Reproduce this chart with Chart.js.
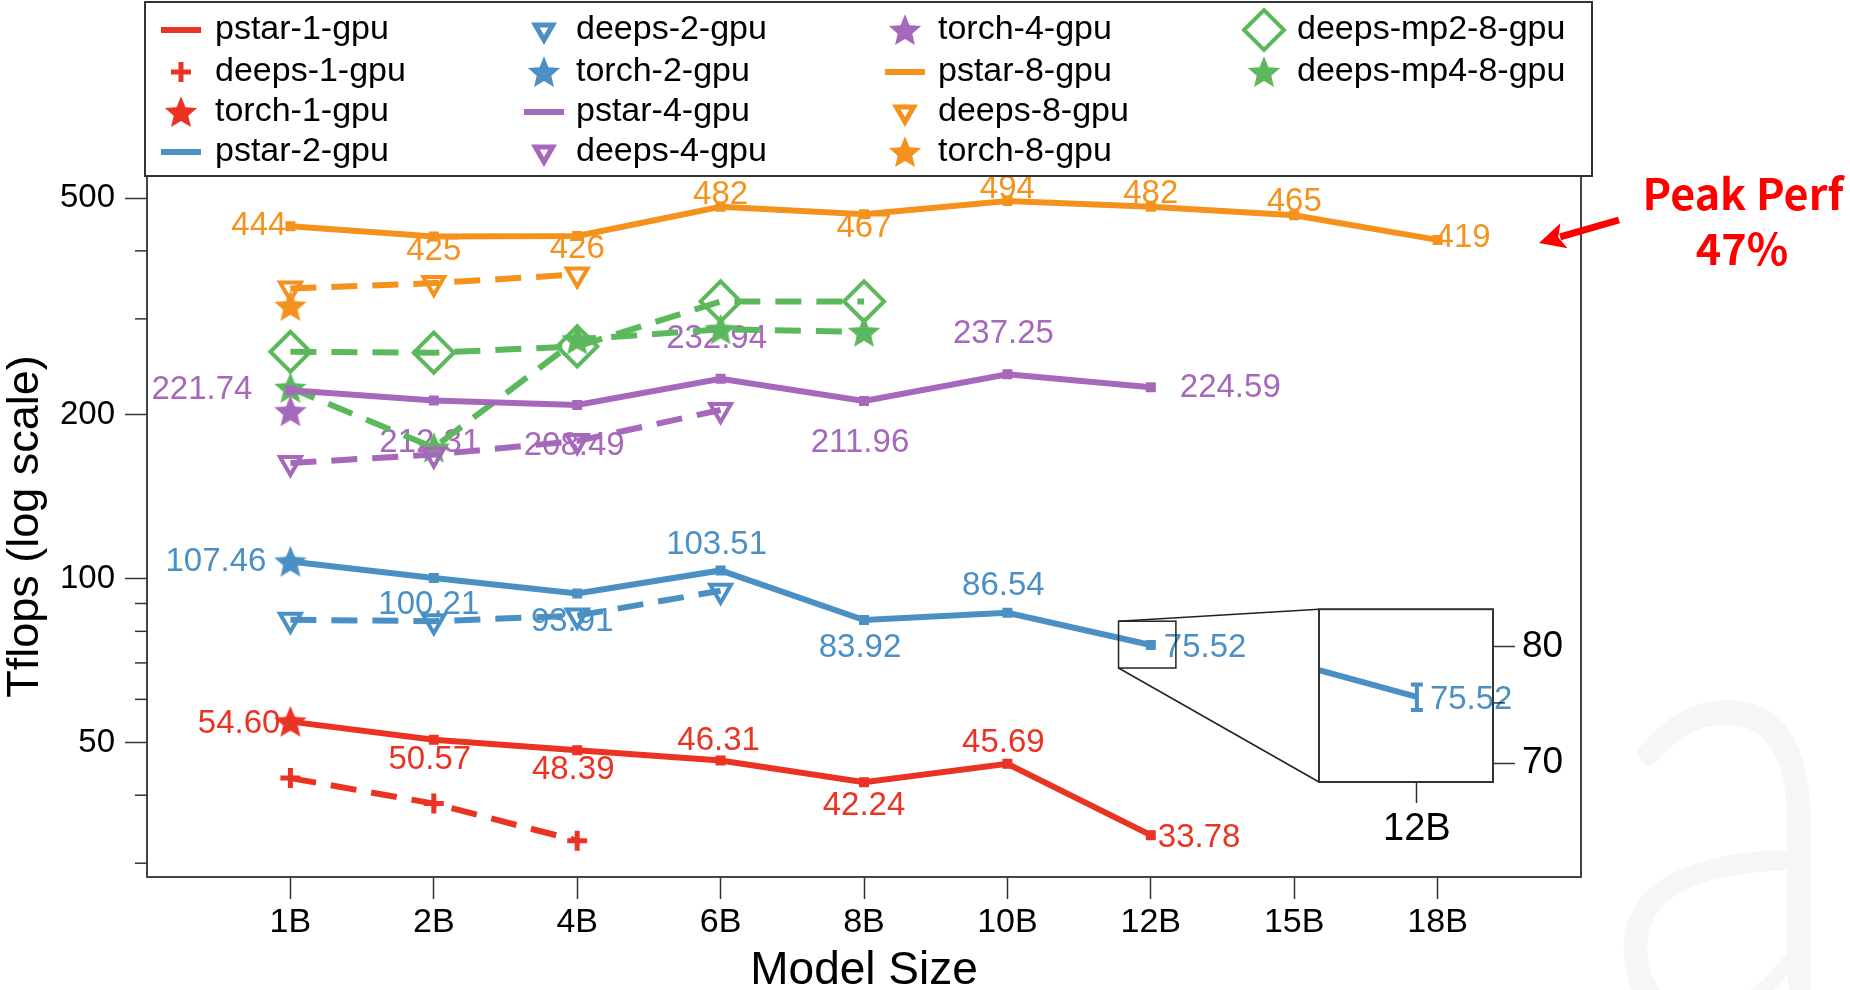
<!DOCTYPE html>
<html>
<head>
<meta charset="utf-8">
<title>Tflops by model size</title>
<script src="https://cdn.jsdelivr.net/npm/chart.js@4.4.1/dist/chart.umd.min.js"></script>
<style>
  html, body { margin: 0; padding: 0; background: #fff; }
  #stage { position: relative; width: 1850px; height: 990px; overflow: hidden; }
  #main { position: absolute; left: 0; top: 0; }
  #zoom { position: absolute; left: 1300px; top: 580px; }
</style>
</head>
<body>
<div id="stage">
  <canvas id="main" width="1850" height="990"></canvas>
  <canvas id="zoom" width="300" height="290"></canvas>
</div>
<script>
// Model sizes along the x axis
const sizes = ['1B', '2B', '4B', '6B', '8B', '10B', '12B', '15B', '18B'];

// Throughput in Tflops, one entry per model size
const pstar1 = [54.60, 50.57, 48.39, 46.31, 42.24, 45.69, 33.78];
const deeps1 = [43.0, 38.6, 33.0];
const torch1 = [54.60];
const pstar2 = [107.46, 100.21, 93.91, 103.51, 83.92, 86.54, 75.52];
const deeps2 = [84.0, 83.5, 85.5, 95.0];
const torch2 = [107.46];
const pstar4 = [221.74, 212.31, 208.49, 232.94, 211.96, 237.25, 224.59];
const deeps4 = [163, 169, 179, 204];
const torch4 = [203];
const pstar8 = [444, 425, 426, 482, 467, 494, 482, 465, 419];
const deeps8 = [341, 349, 362];
const torch8 = [317];
const deepsMp2x8 = [261, 260, 267, 323, 323];
const deepsMp4x8 = [224, 174, 275, 287, 284];

// Spread of the 12B pstar-2-gpu runs (shown in the magnified view)
const pstar2Low  = [null, null, null, null, null, null, 74.4];
const pstar2High = [null, null, null, null, null, null, 76.6];

// Tick values
const yTicks = [30, 40, 50, 60, 70, 80, 90, 100, 200, 300, 400, 500];
const yLabelled = [50, 100, 200, 500];
const zoomTicks = [70, 75, 80];
const zoomLabelled = [70, 80];

// Window covered by the magnified view (x index, Tflops)
const zoomX = [5.775, 6.175];
const zoomY = [68.5, 83.5];

const FONT = "'Liberation Sans', Arial, Helvetica, sans-serif";
Chart.defaults.font.family = FONT;
Chart.defaults.color = '#000';

const C = { red: '#EB3324', blue: '#4A90C4', purple: '#A668BA', orange: '#F5921E', green: '#5CB85C' };
const DASH = [26, 15];
const CLEAR = 'rgba(0,0,0,0)';

// Value label placement: [dx, dy, anchor] relative to the point
const pos8 = [[-4,0,'R'],[0,14,'C'],[0,13,'C'],[0,-12,'C'],[0,14,'C'],[0,-12,'C'],[0,-13,'C'],[0,-13,'C'],[-2,-2,'L']];
const pos4 = [[-38,0,'R'],[-4,42,'C'],[-3,41,'C'],[-4,-40,'C'],[-4,42,'C'],[-4,-40,'C'],[29,1,'L']];
const pos2 = [[-24,0,'R'],[-5,27,'C'],[-5,28,'C'],[-4,-26,'C'],[-4,28,'C'],[-4,-27,'C'],[13,3,'L']];
const pos1 = [[-10,2,'R'],[-4,20,'C'],[-4,20,'C'],[-2,-20,'C'],[0,24,'C'],[-4,-21,'C'],[7,3,'L']];
const posZoom = [null, null, null, null, null, null, [13,3,'L']];

function pts(arr) {
  return arr.map((v, i) => (v == null ? null : { x: i, y: v })).filter(Boolean);
}

// Filled five-pointed star used as a point marker
function starImage(color, R) {
  const s = Math.ceil(R * 2 + 4);
  const c = document.createElement('canvas');
  c.width = s; c.height = s;
  const g = c.getContext('2d');
  g.fillStyle = color;
  g.beginPath();
  for (let i = 0; i < 10; i++) {
    const a = -Math.PI / 2 + i * Math.PI / 5;
    const r = i % 2 ? R * 0.45 : R;
    const px = s / 2 + r * Math.cos(a), py = s / 2 + R * 0.08 + r * Math.sin(a);
    if (i === 0) g.moveTo(px, py); else g.lineTo(px, py);
  }
  g.closePath();
  g.fill();
  return c;
}

function pstarSet(label, color, values, pos, decimals) {
  return { label, data: pts(values), borderColor: color, backgroundColor: color, borderWidth: 6,
    pointStyle: 'rect', pointRadius: 6, pointBorderWidth: 1.5, pointBackgroundColor: color,
    pointBorderColor: color, legendKind: 'line', valueLabels: { pos, decimals } };
}
function deepsSet(label, color, values) {
  return { label, data: pts(values), borderColor: color, backgroundColor: CLEAR, borderWidth: 6,
    borderDash: DASH, pointStyle: 'triangle', pointRotation: 180, pointRadius: 12,
    pointBorderWidth: 4, pointBorderColor: color, pointBackgroundColor: CLEAR,
    legendRadius: 10, legendBorderWidth: 5 };
}
function torchSet(label, color, values) {
  return { label, data: pts(values), showLine: false, borderColor: color, backgroundColor: color,
    pointStyle: starImage(color, 17), pointRadius: 17, pointBackgroundColor: color, pointBorderColor: color };
}

const datasets = [
  pstarSet('pstar-1-gpu', C.red, pstar1, pos1, 2),
  { label: 'deeps-1-gpu', data: pts(deeps1), borderColor: C.red, backgroundColor: C.red, borderWidth: 6,
    borderDash: DASH, pointStyle: 'cross', pointRadius: 10, pointBorderWidth: 5, pointBorderColor: C.red,
    pointBackgroundColor: C.red },
  torchSet('torch-1-gpu', C.red, torch1),
  pstarSet('pstar-2-gpu', C.blue, pstar2, pos2, 2),
  deepsSet('deeps-2-gpu', C.blue, deeps2),
  torchSet('torch-2-gpu', C.blue, torch2),
  pstarSet('pstar-4-gpu', C.purple, pstar4, pos4, 2),
  deepsSet('deeps-4-gpu', C.purple, deeps4),
  torchSet('torch-4-gpu', C.purple, torch4),
  pstarSet('pstar-8-gpu', C.orange, pstar8, pos8, 0),
  deepsSet('deeps-8-gpu', C.orange, deeps8),
  torchSet('torch-8-gpu', C.orange, torch8),
  { label: 'deeps-mp2-8-gpu', data: pts(deepsMp2x8), borderColor: C.green, backgroundColor: CLEAR, borderWidth: 6,
    borderDash: DASH, pointStyle: 'rectRot', pointRadius: 20, pointBorderWidth: 4, pointBorderColor: C.green,
    pointBackgroundColor: CLEAR },
  { label: 'deeps-mp4-8-gpu', data: pts(deepsMp4x8), borderColor: C.green, backgroundColor: C.green, borderWidth: 6,
    borderDash: DASH, pointStyle: starImage(C.green, 17), pointRadius: 17, pointBackgroundColor: C.green,
    pointBorderColor: C.green }
];

// Legend grid (column-major)
const legendColumns = [
  ['pstar-1-gpu', 'deeps-1-gpu', 'torch-1-gpu', 'pstar-2-gpu'],
  ['deeps-2-gpu', 'torch-2-gpu', 'pstar-4-gpu', 'deeps-4-gpu'],
  ['torch-4-gpu', 'pstar-8-gpu', 'deeps-8-gpu', 'torch-8-gpu'],
  ['deeps-mp2-8-gpu', 'deeps-mp4-8-gpu']
];
const legendMarkerX = [181, 544, 905, 1264];
const legendTextX = [215, 576, 938, 1297];
const legendRowY = [30, 72, 112, 152];

function drawMarker(ctx, ds, cx, cy) {
  ctx.save();
  ctx.setLineDash([]);
  if (ds.legendKind === 'line') {
    ctx.strokeStyle = ds.borderColor;
    ctx.lineWidth = 6;
    ctx.beginPath(); ctx.moveTo(cx - 20, cy); ctx.lineTo(cx + 20, cy); ctx.stroke();
  } else {
    const bw = ds.legendBorderWidth || ds.pointBorderWidth || 0;
    ctx.fillStyle = ds.pointBackgroundColor;
    ctx.strokeStyle = ds.pointBorderColor;
    ctx.lineWidth = bw;
    Chart.helpers.drawPoint(ctx, { pointStyle: ds.pointStyle, rotation: ds.pointRotation || 0,
      radius: ds.legendRadius || ds.pointRadius, borderWidth: bw }, cx, cy);
  }
  ctx.restore();
}

const valueLabelPlugin = {
  id: 'valueLabels',
  beforeDatasetsDraw(chart) {
    const ctx = chart.ctx;
    chart.data.datasets.forEach((ds, di) => {
      if (!ds.valueLabels) return;
      const meta = chart.getDatasetMeta(di);
      ctx.save();
      ctx.font = '33px ' + FONT;
      ctx.fillStyle = ds.borderColor;
      ctx.textBaseline = 'middle';
      meta.data.forEach((el, i) => {
        const p = ds.valueLabels.pos[i];
        if (!p) return;
        ctx.textAlign = p[2] === 'R' ? 'right' : (p[2] === 'L' ? 'left' : 'center');
        ctx.fillText(ds.data[i].y.toFixed(ds.valueLabels.decimals), el.x + p[0], el.y + p[1]);
      });
      ctx.restore();
    });
  }
};

const zoomDecor = {
  id: 'zoomDecor',
  afterDatasetsDraw(chart) {
    const { ctx, scales: { x, y } } = chart;
    chart.data.datasets.forEach(ds => {
      if (!ds.errLow) return;
      ds.errLow.forEach((lo, i) => {
        if (lo == null) return;
        const hi = ds.errHigh[i];
        const px = x.getPixelForValue(i), p0 = y.getPixelForValue(lo), p1 = y.getPixelForValue(hi);
        ctx.save();
        ctx.strokeStyle = ds.borderColor; ctx.lineWidth = 4;
        ctx.beginPath();
        ctx.moveTo(px, p0); ctx.lineTo(px, p1);
        ctx.moveTo(px - 6, p0); ctx.lineTo(px + 6, p0);
        ctx.moveTo(px - 6, p1); ctx.lineTo(px + 6, p1);
        ctx.stroke();
        ctx.restore();
      });
    });
  },
  afterDraw(chart) {
    const { ctx, chartArea: a, scales: { y } } = chart;
    ctx.save();
    ctx.strokeStyle = '#333'; ctx.lineWidth = 2;
    ctx.strokeRect(a.left, a.top, a.right - a.left, a.bottom - a.top);
    ctx.lineWidth = 1.5;
    zoomTicks.filter(v => !zoomLabelled.includes(v)).forEach(v => {
      const py = y.getPixelForValue(v);
      ctx.beginPath(); ctx.moveTo(a.right, py); ctx.lineTo(a.right + 12, py); ctx.stroke();
    });
    ctx.restore();
  }
};

// Magnified view of the 12B pstar-2-gpu point
const zoom = new Chart(document.getElementById('zoom'), {
  type: 'line',
  data: { datasets: [{ label: 'pstar-2-gpu', data: pts(pstar2), borderColor: C.blue, borderWidth: 6,
    pointRadius: 0, clip: 0, valueLabels: { pos: posZoom, decimals: 2 }, errLow: pstar2Low, errHigh: pstar2High }] },
  options: {
    responsive: false, animation: false, devicePixelRatio: 1,
    layout: { padding: { left: 19, top: 17, right: 0, bottom: 0 } },
    plugins: { legend: { display: false }, tooltip: { enabled: false } },
    scales: {
      x: {
        type: 'linear', min: zoomX[0], max: zoomX[1],
        afterBuildTicks: s => { s.ticks = [{ value: 6 }]; },
        afterFit: s => { s.height = 88; },
        ticks: { callback: v => sizes[v], font: { size: 38 }, padding: 4, color: '#000', autoSkip: false, maxRotation: 0 },
        grid: { drawOnChartArea: false, tickLength: 21, tickColor: '#333', tickWidth: 1.5 },
        border: { display: false }
      },
      y: {
        type: 'logarithmic', position: 'right', min: zoomY[0], max: zoomY[1],
        afterBuildTicks: s => { s.ticks = zoomTicks.map(v => ({ value: v })); },
        afterFit: s => { s.width = 107; },
        ticks: { callback: v => (zoomLabelled.includes(v) ? String(v) : ''), font: { size: 37 }, padding: 7, color: '#000', autoSkip: false },
        grid: { drawOnChartArea: false, tickLength: 22, tickWidth: 1.5,
          tickColor: c => (c.tick && zoomLabelled.includes(c.tick.value) ? '#333' : CLEAR) },
        border: { display: false }
      }
    }
  },
  plugins: [valueLabelPlugin, zoomDecor]
});

const mainDecor = {
  id: 'mainDecor',
  beforeDraw(chart) {
    const ctx = chart.ctx;
    ctx.save();
    ctx.fillStyle = '#fff';
    ctx.fillRect(0, 0, chart.width, chart.height);
    // faint letter in the lower right corner
    ctx.fillStyle = '#f6f6f6';
    ctx.font = '300 640px Lato, ' + FONT;
    const m = ctx.measureText('a');
    const inkW = m.actualBoundingBoxLeft + m.actualBoundingBoxRight;
    ctx.translate(1618, 694 + m.actualBoundingBoxAscent);
    ctx.scale(200 / inkW, 1);
    ctx.fillText('a', m.actualBoundingBoxLeft, 0);
    ctx.restore();
  },
  afterDraw(chart) {
    const { ctx, chartArea: a, scales: { x, y } } = chart;
    ctx.save();
    ctx.setLineDash([]);

    // plot frame
    ctx.strokeStyle = '#444'; ctx.lineWidth = 2;
    ctx.strokeRect(a.left, a.top, a.right - a.left, a.bottom - a.top);

    // minor y ticks
    ctx.strokeStyle = '#333'; ctx.lineWidth = 1.5;
    yTicks.filter(v => !yLabelled.includes(v)).forEach(v => {
      const py = y.getPixelForValue(v);
      ctx.beginPath(); ctx.moveTo(a.left - 12, py); ctx.lineTo(a.left, py); ctx.stroke();
    });

    // legend box
    ctx.fillStyle = '#fff';
    ctx.fillRect(145, 2, 1447, a.top - 2);
    ctx.strokeStyle = '#333'; ctx.lineWidth = 2;
    ctx.strokeRect(145, 2, 1447, a.top - 2);
    ctx.font = '34px ' + FONT;
    ctx.textBaseline = 'middle';
    ctx.textAlign = 'left';
    legendColumns.forEach((col, ci) => {
      col.forEach((name, ri) => {
        const ds = chart.data.datasets.find(d => d.label === name);
        drawMarker(ctx, ds, legendMarkerX[ci], legendRowY[ri]);
        ctx.fillStyle = '#000';
        ctx.fillText(name, legendTextX[ci], legendRowY[ri]);
      });
    });

    // window shown magnified, with connectors to the magnified view
    const zx0 = x.getPixelForValue(zoomX[0]), zx1 = x.getPixelForValue(zoomX[1]);
    const zy0 = y.getPixelForValue(zoomY[1]), zy1 = y.getPixelForValue(zoomY[0]);
    ctx.strokeStyle = '#222'; ctx.lineWidth = 1.5;
    ctx.strokeRect(zx0, zy0, zx1 - zx0, zy1 - zy0);
    const zc = zoom.canvas, za = zoom.chartArea;
    const ox = zc.offsetLeft, oy = zc.offsetTop;
    ctx.beginPath();
    ctx.moveTo(zx0, zy0); ctx.lineTo(ox + za.left, oy + za.top);
    ctx.moveTo(zx0, zy1); ctx.lineTo(ox + za.left, oy + za.bottom);
    ctx.stroke();

    // peak performance note
    ctx.fillStyle = '#ff0000';
    ctx.textAlign = 'center';
    ctx.textBaseline = 'alphabetic';
    ctx.font = 'bold 100px "Noto Sans CJK SC", ' + FONT;
    const w = ctx.measureText('Peak Perf').width;
    ctx.font = 'bold ' + (100 * 201 / w).toFixed(1) + 'px "Noto Sans CJK SC", ' + FONT;
    ctx.fillText('Peak Perf', 1743, 210);
    ctx.fillText('47%', 1742, 265);

    // arrow towards the 8-GPU curve
    const tail = [1619, 220], tip = [1539, 243];
    const dx = tip[0] - tail[0], dy = tip[1] - tail[1], len = Math.hypot(dx, dy);
    const ux = dx / len, uy = dy / len;
    const bx = tip[0] - ux * 26, by = tip[1] - uy * 26;
    ctx.strokeStyle = '#ff0000'; ctx.lineWidth = 7;
    ctx.beginPath(); ctx.moveTo(tail[0], tail[1]); ctx.lineTo(bx + ux * 4, by + uy * 4); ctx.stroke();
    ctx.beginPath();
    ctx.moveTo(tip[0], tip[1]);
    ctx.lineTo(bx - uy * 13, by + ux * 13);
    ctx.lineTo(bx + ux * 6, by + uy * 6);
    ctx.lineTo(bx + uy * 13, by - ux * 13);
    ctx.closePath();
    ctx.fill();
    ctx.restore();
  }
};

const main = new Chart(document.getElementById('main'), {
  type: 'line',
  data: { datasets },
  options: {
    responsive: false, animation: false, devicePixelRatio: 1,
    layout: { padding: { top: 176, right: 269, left: 0, bottom: 0 } },
    plugins: { legend: { display: false }, tooltip: { enabled: false } },
    elements: { line: { borderCapStyle: 'butt', tension: 0 } },
    scales: {
      x: {
        type: 'linear', min: -1, max: 9,
        afterBuildTicks: s => { s.ticks = sizes.map((_, i) => ({ value: i })); },
        afterFit: s => { s.height = 113; },
        ticks: { callback: v => sizes[v], font: { size: 34 }, padding: 3, color: '#000', autoSkip: false, maxRotation: 0 },
        grid: { drawOnChartArea: false, tickLength: 22, tickColor: '#333', tickWidth: 1.5 },
        border: { display: false },
        title: { display: true, text: 'Model Size', font: { size: 46 }, color: '#000', padding: { top: 0, bottom: -9 } }
      },
      y: {
        type: 'logarithmic', min: 28.3, max: 549,
        afterBuildTicks: s => { s.ticks = yTicks.map(v => ({ value: v })); },
        afterFit: s => { s.width = 147; },
        ticks: { callback: v => (yLabelled.includes(v) ? String(v) : ''), font: { size: 33 }, padding: 10, color: '#000', autoSkip: false },
        grid: { drawOnChartArea: false, tickLength: 22, tickWidth: 1.5,
          tickColor: c => (c.tick && yLabelled.includes(c.tick.value) ? '#333' : CLEAR) },
        border: { display: false },
        title: { display: true, text: 'Tflops (log scale)', font: { size: 45 }, color: '#000', padding: { top: -1, bottom: 0 } }
      }
    }
  },
  plugins: [valueLabelPlugin, mainDecor]
});
</script>
</body>
</html>
